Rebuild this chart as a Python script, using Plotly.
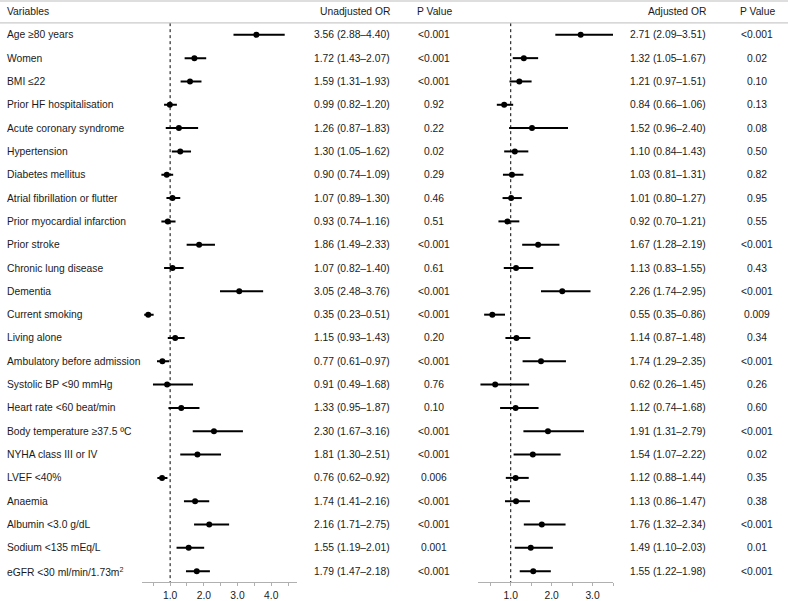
import plotly.graph_objects as go

variables = [
    "Age ≥80 years", "Women", "BMI ≤22", "Prior HF hospitalisation",
    "Acute coronary syndrome", "Hypertension", "Diabetes mellitus",
    "Atrial fibrillation or flutter", "Prior myocardial infarction", "Prior stroke",
    "Chronic lung disease", "Dementia", "Current smoking", "Living alone",
    "Ambulatory before admission", "Systolic BP &lt;90 mmHg", "Heart rate &lt;60 beat/min",
    "Body temperature ≥37.5 ºC", "NYHA class III or IV", "LVEF &lt;40%", "Anaemia",
    "Albumin &lt;3.0 g/dL", "Sodium &lt;135 mEq/L", "eGFR &lt;30 ml/min/1.73m<sup>2</sup>",
]

unadj_or = [3.56, 1.72, 1.59, 0.99, 1.26, 1.30, 0.90, 1.07, 0.93, 1.86, 1.07, 3.05,
            0.35, 1.15, 0.77, 0.91, 1.33, 2.30, 1.81, 0.76, 1.74, 2.16, 1.55, 1.79]
unadj_lo = [2.88, 1.43, 1.31, 0.82, 0.87, 1.05, 0.74, 0.89, 0.74, 1.49, 0.82, 2.48,
            0.23, 0.93, 0.61, 0.49, 0.95, 1.67, 1.30, 0.62, 1.41, 1.71, 1.19, 1.47]
unadj_hi = [4.40, 2.07, 1.93, 1.20, 1.83, 1.62, 1.09, 1.30, 1.16, 2.33, 1.40, 3.76,
            0.51, 1.43, 0.97, 1.68, 1.87, 3.16, 2.51, 0.92, 2.16, 2.75, 2.01, 2.18]
unadj_p = ["<0.001", "<0.001", "<0.001", "0.92", "0.22", "0.02", "0.29", "0.46", "0.51",
           "<0.001", "0.61", "<0.001", "<0.001", "0.20", "<0.001", "0.76", "0.10",
           "<0.001", "<0.001", "0.006", "<0.001", "<0.001", "0.001", "<0.001"]

adj_or = [2.71, 1.32, 1.21, 0.84, 1.52, 1.10, 1.03, 1.01, 0.92, 1.67, 1.13, 2.26,
          0.55, 1.14, 1.74, 0.62, 1.12, 1.91, 1.54, 1.12, 1.13, 1.76, 1.49, 1.55]
adj_lo = [2.09, 1.05, 0.97, 0.66, 0.96, 0.84, 0.81, 0.80, 0.70, 1.28, 0.83, 1.74,
          0.35, 0.87, 1.29, 0.26, 0.74, 1.31, 1.07, 0.88, 0.86, 1.32, 1.10, 1.22]
adj_hi = [3.51, 1.67, 1.51, 1.06, 2.40, 1.43, 1.31, 1.27, 1.21, 2.19, 1.55, 2.95,
          0.86, 1.48, 2.35, 1.45, 1.68, 2.79, 2.22, 1.44, 1.47, 2.34, 2.03, 1.98]
adj_p = ["<0.001", "0.02", "0.10", "0.13", "0.08", "0.50", "0.82", "0.95", "0.55",
         "<0.001", "0.43", "<0.001", "0.009", "0.34", "<0.001", "0.26", "0.60",
         "<0.001", "0.02", "0.35", "0.38", "<0.001", "0.01", "<0.001"]

headers = ["Variables", "Unadjusted OR", "P Value", "Adjusted OR", "P Value"]
left_ticks = [1, 2, 3, 4]
right_ticks = [1, 2, 3]

W, H = 788, 601
FONT = "Liberation Sans, Arial, Helvetica, sans-serif"
FS = 10.3
TXT = "#1a1a1a"

rows = list(range(len(variables)))

fig = go.Figure()

def add_forest(orv, lo, hi, xaxis):
    fig.add_trace(go.Scatter(
        x=orv, y=rows, xaxis=xaxis, yaxis="y", mode="markers",
        marker=dict(color="black", size=6),
        error_x=dict(type="data", symmetric=False,
                     array=[h - o for h, o in zip(hi, orv)],
                     arrayminus=[o - l for o, l in zip(orv, lo)],
                     width=0, thickness=2, color="black"),
        showlegend=False, hoverinfo="skip"))

add_forest(unadj_or, unadj_lo, unadj_hi, "x")
add_forest(adj_or, adj_lo, adj_hi, "x2")

y_axis_row = 23.48
# reference lines at OR = 1
for xr in ["x", "x2"]:
    fig.add_shape(type="line", xref=xr, yref="y", x0=1, x1=1, y0=-0.5, y1=y_axis_row,
                  line=dict(color="black", width=1, dash="dot"), layer="below")

# header separator lines
for yv in [-1.45, -0.51]:
    fig.add_shape(type="line", xref="paper", yref="y", x0=0, x1=1, y0=yv, y1=yv,
                  line=dict(color="#bdbdbd", width=1))

ann = []
def col(texts, xpx, anchor, ylist):
    for t, yy in zip(texts, ylist):
        ann.append(dict(x=xpx / W, xref="paper", y=yy, yref="y", text=t,
                        xanchor=anchor, yanchor="middle", showarrow=False,
                        font=dict(family=FONT, size=FS, color=TXT)))

def esc(s):
    return s.replace("<", "&lt;")

col(variables, 4.5, "left", rows)
col([f"{o:.2f} ({l:.2f}–{h:.2f})" for o, l, h in zip(unadj_or, unadj_lo, unadj_hi)], 392, "right", rows)
col([esc(p) for p in unadj_p], 434, "center", rows)
col([f"{o:.2f} ({l:.2f}–{h:.2f})" for o, l, h in zip(adj_or, adj_lo, adj_hi)], 707.5, "right", rows)
col([esc(p) for p in adj_p], 757, "center", rows)

hy = -0.98
col([headers[0]], 4.5, "left", [hy])
col([headers[1]], 392, "right", [hy])
col([headers[2]], 434, "center", [hy])
col([headers[3]], 707.5, "right", [hy])
col([headers[4]], 757, "center", [hy])

axis_common = dict(
    showgrid=False, zeroline=False, showline=True, linecolor="#b0b0b0", linewidth=1,
    ticks="outside", ticklen=3, tickcolor="#b0b0b0", tickwidth=1,
    tickfont=dict(family=FONT, size=FS, color=TXT), anchor="y",
)

fig.update_layout(
    width=W, height=H, margin=dict(l=0, r=0, t=0, b=0),
    paper_bgcolor="white", plot_bgcolor="white",
    xaxis=dict(domain=[141.5 / W, 296.5 / W], range=[0.15, 4.75],
               tickvals=left_ticks, ticktext=[f"{v:.1f}" for v in left_ticks],
               minor=dict(tickvals=[0.5, 1.5, 2.5, 3.5, 4.5], ticks="outside", ticklen=3,
                          tickcolor="#b0b0b0"),
               **axis_common),
    xaxis2=dict(domain=[478 / W, 613 / W], range=[0.2, 3.5],
                tickvals=right_ticks, ticktext=[f"{v:.1f}" for v in right_ticks],
                minor=dict(tickvals=[0.5, 1.5, 2.5, 3.5], ticks="outside", ticklen=3,
                           tickcolor="#b0b0b0"),
                **axis_common),
    yaxis=dict(domain=[(H - 585.3) / H, 1], range=[y_axis_row, -1.493],
               showgrid=False, zeroline=False, showline=False, showticklabels=False,
               ticks=""),
    annotations=ann,
    font=dict(family=FONT, size=FS, color=TXT),
)

fig.write_html(
    "out.html",
    config={"displayModeBar": False, "staticPlot": True},
    post_script="document.body.style.margin='0px';document.body.style.overflow='hidden';",
)
